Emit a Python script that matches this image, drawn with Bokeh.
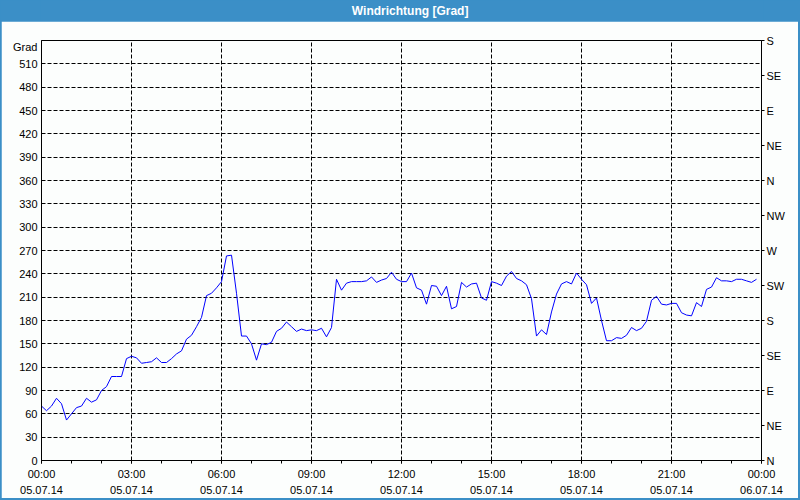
from bokeh.plotting import figure
from bokeh.models import LinearAxis, FixedTicker, Range1d, Label
from bokeh.layouts import column
from bokeh.embed import file_html
from bokeh.resources import INLINE

# ---- data ----
title_text = "Windrichtung [Grad]"
wind_dir = [
    70, 64, 70, 80, 73, 52, 60, 68, 70, 80, 75, 78, 90, 95, 108, 108, 108, 131,
    134, 132, 125, 126, 127, 132, 126, 126, 131, 137, 141, 156, 161, 172, 184, 212,
    215, 222, 230, 263, 264, 215, 160, 160, 150, 129, 150, 149, 152, 166, 170, 178,
    172, 166, 169, 167, 168, 167, 170, 159, 171, 233, 219, 228, 230, 230, 230, 231,
    236, 229, 232, 234, 242, 233, 230, 230, 241, 222, 219, 201, 225, 224, 212, 224,
    195, 198, 229, 223, 227, 228, 209, 206, 230, 228, 225, 237, 243, 234, 231, 226,
    208, 160, 168, 162, 191, 214, 227, 230, 227, 241, 233, 226, 202, 209, 180, 154,
    154, 158, 157, 161, 171, 167, 170, 179, 206, 211, 201, 200, 202, 202, 190, 187,
    186, 203, 198, 220, 223, 235, 231, 231, 230, 233, 233, 231, 229, 233,
]
# hours since 05.07.14 00:00, 10-minute sampling
hours = [i / 6 for i in range(len(wind_dir))]

x_tick_hours = [0, 3, 6, 9, 12, 15, 18, 21, 24]
x_tick_labels = ["00:00\n05.07.14", "03:00\n05.07.14", "06:00\n05.07.14",
                 "09:00\n05.07.14", "12:00\n05.07.14", "15:00\n05.07.14",
                 "18:00\n05.07.14", "21:00\n05.07.14", "00:00\n06.07.14"]
x_minor_hours = list(range(0, 25))
y_ticks = [0, 30, 60, 90, 120, 150, 180, 210, 240, 270, 300, 330, 360, 390,
           420, 450, 480, 510]
y_unit_pos = 532
y_unit_label = "Grad"
compass_ticks = [0, 45, 90, 135, 180, 225, 270, 315, 360, 405, 450, 495, 540]
compass_labels = ["N", "NE", "E", "SE", "S", "SW", "W", "NW", "N", "NE", "E", "SE", "S"]

BLUE = "#3b8fc7"
BG = "#fcfefd"
FONT = "Liberation Sans"

# ---- title bar ----
t = figure(width=800, height=21, toolbar_location=None, output_backend="svg",
           x_range=Range1d(0, 800), y_range=Range1d(0, 21), min_border=0,
           background_fill_color=BLUE, border_fill_color=BLUE, outline_line_color=None)
t.axis.visible = False
t.grid.visible = False
t.add_layout(Label(x=409, y=10.5, text=title_text, text_align="center",
                   text_baseline="middle", text_color="white", text_font=FONT,
                   text_font_style="bold", text_font_size="12px"))

# ---- main chart ----
p = figure(width=797, height=477, toolbar_location=None, output_backend="svg",
           x_range=Range1d(0, 24), y_range=Range1d(0, 540),
           min_border_left=40, min_border_right=37, min_border_top=19, min_border_bottom=37,
           background_fill_color=BG, border_fill_color=BG,
           outline_line_color="black", outline_line_width=1)
p.margin = (0, 2, 2, 1)

p.line(hours, wind_dir, line_color="#0000ff", line_width=1)

xa = p.xaxis[0]
xa.ticker = FixedTicker(ticks=x_tick_hours, minor_ticks=x_minor_hours)
xa.major_label_overrides = {h: lab for h, lab in zip(x_tick_hours, x_tick_labels)}
xa.major_tick_out = 3
xa.major_tick_in = 0
xa.minor_tick_out = 3
xa.minor_tick_in = 0
xa.major_label_standoff = 4
xa.axis_line_color = "black"
xa.major_tick_line_color = "black"
xa.minor_tick_line_color = "black"
xa.major_label_text_font = FONT
xa.major_label_text_font_size = "11px"
xa.major_label_text_color = "black"
xa.major_label_text_line_height = 1.35

ya = p.yaxis[0]
ya.ticker = FixedTicker(ticks=y_ticks + [y_unit_pos], minor_ticks=[])
ya.major_label_overrides = {y_unit_pos: y_unit_label}
ya.major_tick_out = 0
ya.major_tick_in = 0
ya.minor_tick_out = 0
ya.minor_tick_in = 0
ya.major_label_standoff = 4
ya.axis_line_color = "black"
ya.major_label_text_font = FONT
ya.major_label_text_font_size = "11px"
ya.major_label_text_color = "black"

ra = LinearAxis(ticker=FixedTicker(ticks=compass_ticks, minor_ticks=[]),
                major_label_overrides={v: lab for v, lab in zip(compass_ticks, compass_labels)},
                major_tick_out=3, major_tick_in=0, minor_tick_out=0, minor_tick_in=0,
                major_label_standoff=2, axis_line_color="black",
                major_tick_line_color="black",
                major_label_text_font=FONT, major_label_text_font_size="11px",
                major_label_text_color="black")
p.add_layout(ra, "right")

p.xgrid.ticker = FixedTicker(ticks=x_tick_hours[1:-1], minor_ticks=[])
p.ygrid.ticker = FixedTicker(ticks=y_ticks[1:], minor_ticks=[])
for g in (p.xgrid[0], p.ygrid[0]):
    g.grid_line_color = "black"
    g.grid_line_dash = "4 2"
    g.grid_line_width = 1

layout = column(t, p, spacing=0, styles={"background-color": BLUE})

open("out.html", "w").write(file_html(layout, INLINE))
